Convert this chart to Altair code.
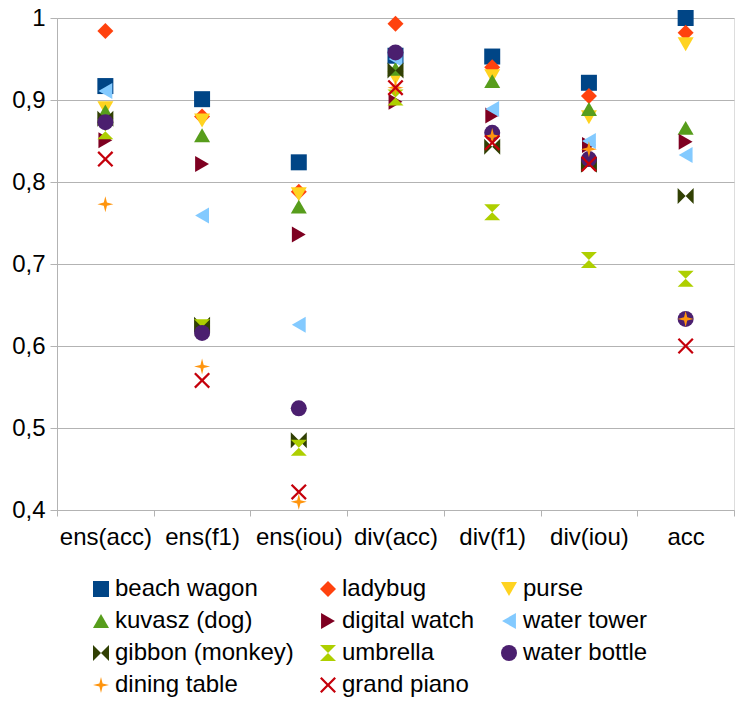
import altair as alt
import pandas as pd

categories = ["ens(acc)", "ens(f1)", "ens(iou)", "div(acc)", "div(f1)", "div(iou)", "acc"]

series = ["beach wagon", "ladybug", "purse", "kuvasz (dog)", "digital watch", "water tower",
          "gibbon (monkey)", "umbrella", "water bottle", "dining table", "grand piano"]

colors = ["#004586", "#ff420e", "#ffd320", "#579d1c", "#7e0021", "#83caff",
          "#314004", "#aecf00", "#4b1f6f", "#ff950e", "#c5000b"]

shapes = [
    "square",
    "diamond",
    "triangle-down",
    "triangle-up",
    "triangle-right",
    "triangle-left",
    "M-1,-1L0,0L-1,1Z M1,-1L0,0L1,1Z",
    "M-1,-1L1,-1L0,0Z M-1,1L1,1L0,0Z",
    "circle",
    "M0,-1L0.2,-0.2L1,0L0.2,0.2L0,1L-0.2,0.2L-1,0L-0.2,-0.2Z",
    "M-1,-0.8L-0.8,-1L0,-0.2L0.8,-1L1,-0.8L0.2,0L1,0.8L0.8,1L0,0.2L-0.8,1L-1,0.8L-0.2,0Z",
]

beach_wagon = [0.917, 0.901, 0.824, 0.954, 0.953, 0.921, 1.000]
ladybug = [0.984, 0.880, 0.788, 0.993, 0.940, 0.905, 0.982]
purse = [0.890, 0.875, 0.785, 0.927, 0.929, 0.879, 0.968]
kuvasz = [0.886, 0.857, 0.770, 0.938, 0.923, 0.889, 0.866]
digital_watch = [0.851, 0.822, 0.736, 0.898, 0.881, 0.845, 0.849]
water_tower = [0.911, 0.759, 0.626, 0.950, 0.889, 0.850, 0.833]
gibbon = [0.877, 0.626, 0.485, 0.936, 0.843, 0.821, 0.783]
umbrella = [0.862, 0.623, 0.476, 0.903, 0.763, 0.705, 0.682]
water_bottle = [0.873, 0.616, 0.524, 0.958, 0.860, 0.828, 0.633]
dining_table = [0.773, 0.575, 0.410, 0.915, 0.856, 0.840, 0.633]
grand_piano = [0.828, 0.558, 0.422, 0.915, 0.848, 0.822, 0.600]

all_values = [beach_wagon, ladybug, purse, kuvasz, digital_watch, water_tower,
              gibbon, umbrella, water_bottle, dining_table, grand_piano]

y_ticks = [0.4, 0.5, 0.6, 0.7, 0.8, 0.9, 1.0]

rows = []
for i, (s, vals) in enumerate(zip(series, all_values)):
    for c, v in zip(categories, vals):
        rows.append({"series": s, "category": c, "value": v, "idx": i})
df = pd.DataFrame(rows)

FONT = "Liberation Sans"
GRID = "#b3b3b3"

legend = alt.Legend(
    title=None,
    orient="none",
    direction="horizontal",
    legendX=32,
    legendY=559,
    columns=3,
    columnPadding=22,
    rowPadding=8,
    symbolSize=256,
    symbolStrokeWidth=0,
    symbolOffset=0,
    labelOffset=2,
    labelFont=FONT,
    labelFontSize=24,
    labelColor="#000000",
    labelLimit=400,
)

chart = alt.Chart(df).mark_point(filled=True, opacity=1, size=256, strokeWidth=0).encode(
    x=alt.X("category:N", sort=categories, title=None,
            scale=alt.Scale(paddingInner=0, paddingOuter=0),
            axis=alt.Axis(labelAngle=0, tickBand="extent", grid=False,
                          labelFont=FONT, labelFontSize=24, labelColor="#000000",
                          domainColor=GRID, tickColor=GRID, tickSize=6, labelPadding=9)),
    y=alt.Y("value:Q", title=None,
            scale=alt.Scale(domain=[0.4, 1.0], nice=False, zero=False),
            axis=alt.Axis(values=y_ticks,
                          labelExpr="replace(format(datum.value, '.1~f'), '.', ',')",
                          labelFont=FONT, labelFontSize=24, labelColor="#000000",
                          domainColor=GRID, tickColor=GRID, gridColor=GRID,
                          tickSize=7, labelPadding=5)),
    color=alt.Color("series:N", scale=alt.Scale(domain=series, range=colors), legend=legend),
    shape=alt.Shape("series:N", scale=alt.Scale(domain=series, range=shapes), legend=legend),
    order=alt.Order("idx:Q"),
).properties(
    width=677,
    height=492,
    autosize=alt.AutoSizeParams(type="none"),
    padding={"left": 49, "top": 10, "right": 4, "bottom": 190},
).configure_view(
    stroke=GRID
).configure(background="#ffffff")

chart.save("out.html", embed_options={"renderer": "svg", "actions": False})
